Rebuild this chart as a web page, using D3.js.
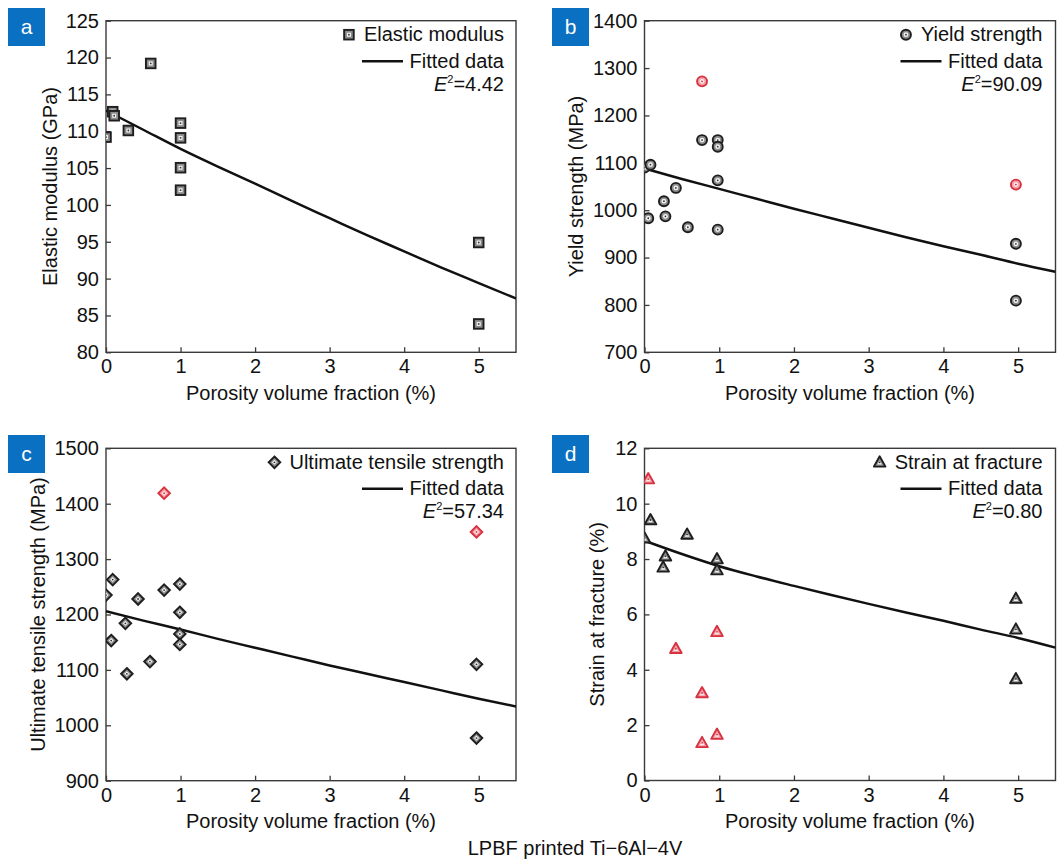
<!DOCTYPE html>
<html>
<head>
<meta charset="utf-8">
<script src="https://cdn.jsdelivr.net/npm/d3@7"></script>
<style>
  html, body { margin: 0; padding: 0; background: #fff; }
  svg { display: block; font-family: "Liberation Sans", Arial, Helvetica, sans-serif; }
</style>
</head>
<body>
<svg id="chart" width="1058" height="859"></svg>
<script>
// ---------- data ----------
const xTicks = [0, 1, 2, 3, 4, 5];
const fitX = [0, 0.5, 1, 1.5, 2, 2.5, 3, 3.5, 4, 4.5, 5, 5.5];

// (a) Elastic modulus
const modulusX = [0, 0.09, 0.11, 0.30, 0.60, 1.0, 1.0, 1.0, 1.0, 5.0, 5.0];
const modulusY = [109.2, 112.65, 112.1, 110.1, 119.2, 111.1, 109.1, 105.05, 102.0, 94.9, 83.85];
const modulusRedX = [];
const modulusRedY = [];
const modulusFit = [112.8, 110.2, 107.6, 105.2, 102.9, 100.5, 98.2, 95.9, 93.7, 91.5, 89.4, 87.3];
const modulusTicks = [80, 85, 90, 95, 100, 105, 110, 115, 120, 125];

// (b) Yield strength
const yieldX = [0, 0.05, 0.08, 0.26, 0.28, 0.42, 0.58, 0.77, 0.98, 0.98, 0.98, 0.98, 4.97, 4.97];
const yieldY = [1090, 983, 1096, 1019, 987, 1047, 964, 1148, 1148, 1134, 1063, 959, 929, 809];
const yieldRedX = [0.77, 4.97];
const yieldRedY = [1272, 1054];
const yieldFit = [1088, 1066, 1045, 1024, 1003, 983, 963, 943, 924, 906, 887, 870];
const yieldTicks = [700, 800, 900, 1000, 1100, 1200, 1300, 1400];

// (c) Ultimate tensile strength
const utsX = [0, 0.07, 0.09, 0.26, 0.28, 0.43, 0.59, 0.78, 0.99, 0.99, 0.99, 0.99, 4.97, 4.97];
const utsY = [1235, 1153, 1263, 1184, 1093, 1228, 1115, 1244, 1255, 1204, 1165, 1146, 1110, 977];
const utsRedX = [0.78, 4.97];
const utsRedY = [1419, 1349];
const utsFit = [1206, 1189, 1173, 1156, 1140, 1124, 1108, 1093, 1078, 1063, 1048, 1034];
const utsTicks = [900, 1000, 1100, 1200, 1300, 1400, 1500];

// (d) Strain at fracture
const strainX = [0, 0.08, 0.28, 0.25, 0.57, 0.97, 0.97, 4.97, 4.97, 4.97];
const strainY = [8.75, 9.41, 8.1, 7.7, 8.89, 8.0, 7.6, 6.57, 5.46, 3.67];
const strainRedX = [0.05, 0.42, 0.77, 0.77, 0.97, 0.97];
const strainRedY = [10.89, 4.76, 3.16, 1.36, 5.37, 1.66];
const strainFit = [8.66, 8.18, 7.74, 7.37, 7.03, 6.7, 6.38, 6.07, 5.77, 5.45, 5.15, 4.8];
const strainTicks = [0, 2, 4, 6, 8, 10, 12];

const panelLetters = ["a", "b", "c", "d"];
const legendNames = ["Elastic modulus", "Yield strength", "Ultimate tensile strength", "Strain at fracture"];
const e2Values = ["4.42", "90.09", "57.34", "0.80"];
const yTitles = ["Elastic modulus (GPa)", "Yield strength (MPa)", "Ultimate tensile strength (MPa)", "Strain at fracture (%)"];
const xTitle = "Porosity volume fraction (%)";
const footer = "LPBF printed Ti\u22126Al\u22124V";

// ---------- drawing ----------
const svg = d3.select("#chart");
const FONT = 20;
const AXIS = "#3a3a3a";
const BLUE = "#0a70c2";
const RED = "#d8313f";

const panels = [
  { box: [106, 20.7, 516, 352.3], lab: [8, 8], yDom: [80, 125], ticks: modulusTicks,
    px: modulusX, py: modulusY, rx: modulusRedX, ry: modulusRedY, fit: modulusFit,
    shape: "square", yTitleOff: 48.7 },
  { box: [644.5, 20.7, 1055.5, 352.3], lab: [552, 8], yDom: [700, 1400], ticks: yieldTicks,
    px: yieldX, py: yieldY, rx: yieldRedX, ry: yieldRedY, fit: yieldFit,
    shape: "circle", yTitleOff: 62 },
  { box: [106, 448.3, 516, 780.7], lab: [8, 435], yDom: [900, 1500], ticks: utsTicks,
    px: utsX, py: utsY, rx: utsRedX, ry: utsRedY, fit: utsFit,
    shape: "diamond", yTitleOff: 61 },
  { box: [644.5, 448.3, 1055.5, 780.5], lab: [552, 435], yDom: [0, 12], ticks: strainTicks,
    px: strainX, py: strainY, rx: strainRedX, ry: strainRedY, fit: strainFit,
    shape: "triangle", yTitleOff: 41 }
];

function marker(g, shape, cx, cy, red) {
  const stroke = red ? RED : "#1e1e1e";
  const fill = red ? "#f0a0a8" : "#8c8c8c";
  const inner = red ? "#fde8ea" : "#f2f2f2";
  const dot = red ? RED : "#333";
  const m = g.append("g").attr("transform", `translate(${cx},${cy})`);
  if (shape === "square") {
    m.append("rect").attr("x", -4.8).attr("y", -4.8).attr("width", 9.6).attr("height", 9.6)
      .attr("fill", fill).attr("stroke", stroke).attr("stroke-width", 1.9);
    m.append("rect").attr("x", -2).attr("y", -2).attr("width", 4).attr("height", 4).attr("fill", inner);
  } else if (shape === "circle") {
    m.append("circle").attr("r", 5).attr("fill", fill).attr("stroke", stroke).attr("stroke-width", 1.9);
    m.append("circle").attr("r", 2.4).attr("fill", inner);
  } else if (shape === "diamond") {
    m.append("path").attr("d", "M0,-5.8L5.8,0L0,5.8L-5.8,0Z")
      .attr("fill", fill).attr("stroke", stroke).attr("stroke-width", 1.9);
    m.append("path").attr("d", "M0,-2.5L2.5,0L0,2.5L-2.5,0Z").attr("fill", inner);
  } else {
    m.append("path").attr("d", "M0,-6L5.8,4.3L-5.8,4.3Z")
      .attr("fill", fill).attr("stroke", stroke).attr("stroke-width", 1.9).attr("stroke-linejoin", "round");
    m.append("path").attr("d", "M0,-1.5L2.3,2.3L-2.3,2.3Z").attr("fill", inner);
  }
  m.append("circle").attr("r", 0.9).attr("fill", dot);
}

panels.forEach((p, i) => {
  const [x0, y0, x1, y1] = p.box;
  const x = d3.scaleLinear().domain([0, 5.5]).range([x0, x1]);
  const y = d3.scaleLinear().domain(p.yDom).range([y1, y0]);
  const g = svg.append("g");

  const clipId = "clip" + i;
  svg.append("clipPath").attr("id", clipId)
    .append("rect").attr("x", x0).attr("y", y0).attr("width", x1 - x0).attr("height", y1 - y0);

  // axes (ticks inward)
  const yAxis = d3.axisLeft(y).tickValues(p.ticks).tickSize(-5).tickPadding(7).tickFormat(d3.format("d"));
  const xAxis = d3.axisBottom(x).tickValues(xTicks).tickSize(-5).tickPadding(8).tickFormat(d3.format("d"));
  const ya = g.append("g").attr("transform", `translate(${x0},0)`).call(yAxis);
  const xa = g.append("g").attr("transform", `translate(0,${y1})`).call(xAxis);
  [ya, xa].forEach(a => {
    a.select(".domain").remove();
    a.selectAll(".tick line").attr("stroke", AXIS).attr("stroke-width", 1.3);
    a.selectAll(".tick text").attr("font-size", FONT).attr("fill", "#111")
      .attr("font-family", '"Liberation Sans", Arial, sans-serif');
  });
  xa.selectAll(".tick text").attr("dy", "0.71em").attr("y", 7);

  // frame
  g.append("rect").attr("x", x0).attr("y", y0).attr("width", x1 - x0).attr("height", y1 - y0)
    .attr("fill", "none").attr("stroke", AXIS).attr("stroke-width", 1.4);

  // fitted line
  const line = d3.line().x((d, k) => x(fitX[k])).y(d => y(d)).curve(d3.curveMonotoneX);
  g.append("path").datum(p.fit).attr("d", line).attr("fill", "none")
    .attr("stroke", "#111").attr("stroke-width", 2.5).attr("clip-path", `url(#${clipId})`);

  // points
  const pts = g.append("g").attr("clip-path", `url(#${clipId})`);
  p.px.forEach((v, k) => marker(pts, p.shape, x(v), y(p.py[k]), false));
  p.rx.forEach((v, k) => marker(pts, p.shape, x(v), y(p.ry[k]), true));

  // legend
  const lx = x0 + 398;
  const t1 = g.append("text").attr("x", lx).attr("y", y0 + 20.5).attr("text-anchor", "end")
    .attr("font-size", FONT).attr("fill", "#111").text(legendNames[i]);
  const w = t1.node().getComputedTextLength();
  marker(g, p.shape, lx - w - 15, y0 + 14, false);
  g.append("line").attr("x1", x0 + 256).attr("x2", x0 + 297).attr("y1", y0 + 40.5).attr("y2", y0 + 40.5)
    .attr("stroke", "#111").attr("stroke-width", 2.6);
  g.append("text").attr("x", lx).attr("y", y0 + 47).attr("text-anchor", "end")
    .attr("font-size", FONT).attr("fill", "#111").text("Fitted data");
  const e2 = g.append("text").attr("x", lx).attr("y", y0 + 70).attr("text-anchor", "end")
    .attr("font-size", FONT).attr("fill", "#111");
  e2.append("tspan").attr("font-style", "italic").text("E");
  e2.append("tspan").attr("font-size", 11).attr("dy", -8).text("2");
  e2.append("tspan").attr("dy", 8).text("=" + e2Values[i]);

  // axis titles
  g.append("text").attr("x", (x0 + x1) / 2).attr("y", y1 + 47.5).attr("text-anchor", "middle")
    .attr("font-size", FONT).attr("fill", "#111").text(xTitle);
  g.append("text").attr("transform", `translate(${x0 - p.yTitleOff},${(y0 + y1) / 2}) rotate(-90)`)
    .attr("text-anchor", "middle").attr("font-size", FONT).attr("fill", "#111").text(yTitles[i]);

  // panel letter
  g.append("rect").attr("x", p.lab[0]).attr("y", p.lab[1]).attr("width", 37).attr("height", 38).attr("fill", BLUE);
  g.append("text").attr("x", p.lab[0] + 18.5).attr("y", p.lab[1] + 26).attr("text-anchor", "middle")
    .attr("font-size", 21).attr("fill", "#fff").text(panelLetters[i]);
});

svg.append("text").attr("x", 575).attr("y", 855).attr("text-anchor", "middle")
  .attr("font-size", FONT).attr("fill", "#111").text(footer);
</script>
</body>
</html>
